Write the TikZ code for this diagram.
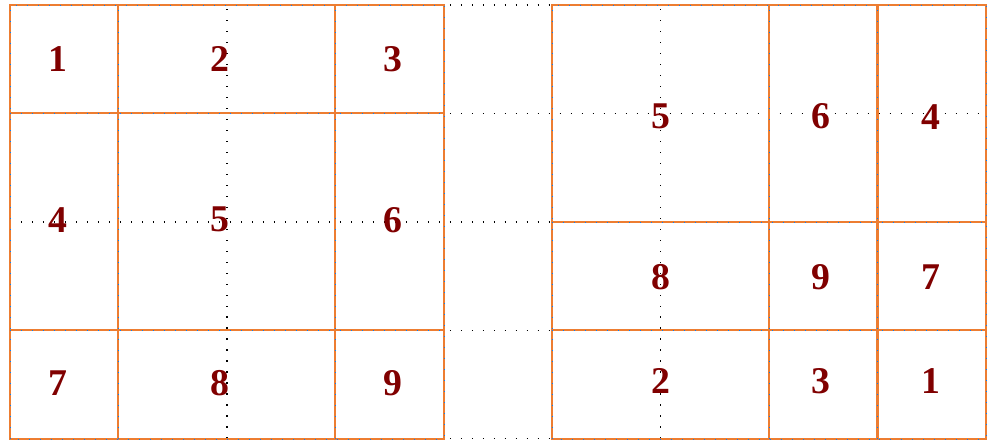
\documentclass[tikz,border=0pt]{standalone}
\usepackage{fontspec}
\setmainfont{Liberation Serif}
\definecolor{tileorange}{RGB}{237,125,49}
\definecolor{numred}{RGB}{128,0,0}
\tikzset{
  tilenum/.style={font=\fontsize{21.5}{25}\selectfont\bfseries, text=numred, inner sep=0pt},
  tileline/.style={draw=tileorange, line width=1.2pt,
    postaction={draw=blue!50!cyan, line width=0.25pt, dash pattern=on 0.25pt off 6.01pt}},
  helpdots/.style={draw=black, line width=0.75pt, dash pattern=on 0.75pt off 5.51pt},
}

\begin{document}
\begin{tikzpicture}[x=2.17cm,y=2.17cm]
      \useasboundingbox (-0.092,-0.074) rectangle (9.065,4.046);
      \draw[helpdots,step=2.17cm] (0,0) grid (9,4);
      % tiles before the shift
      \draw[tileline] (0,0) rectangle (4,4);
      \draw[tileline] (1,0) -- (1,4) (3,0) -- (3,4) (0,1) -- (4,1) (0,3) -- (4,3);
      \node[tilenum] (l1) at (0.44,3.5) {1};
      \node[tilenum] (l2) at (1.94,3.5) {2};
      \node[tilenum] (l3) at (3.53,3.5) {3};
      \node[tilenum] (l4) at (0.44,2.02) {4};
      \node[tilenum] (l5) at (1.94,2.02) {5};
      \node[tilenum] (l6) at (3.53,2.02) {6};
      \node[tilenum] (l7) at (0.44,0.51) {7};
      \node[tilenum] (l8) at (1.94,0.51) {8};
      \node[tilenum] (l9) at (3.53,0.51) {9};
      % tiles after the shift
      \draw[tileline] (5,0) rectangle (9,4);
      \draw[tileline] (7,0) -- (7,4) (8,0) -- (8,4) (5,1) -- (9,1) (5,2) -- (9,2);
      \node[tilenum] (r5) at (6,2.97) {5};
      \node[tilenum] (r6) at (7.48,2.97) {6};
      \node[tilenum] (r4) at (8.49,2.97) {4};
      \node[tilenum] (r8) at (6,1.49) {8};
      \node[tilenum] (r9) at (7.48,1.49) {9};
      \node[tilenum] (r7) at (8.49,1.49) {7};
      \node[tilenum] (r2) at (6,0.53) {2};
      \node[tilenum] (r3) at (7.48,0.53) {3};
      \node[tilenum] (r1) at (8.49,0.53) {1};
    \end{tikzpicture}
\end{document}
